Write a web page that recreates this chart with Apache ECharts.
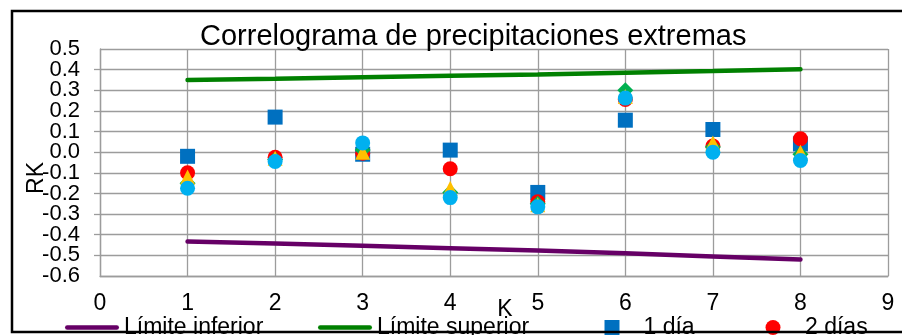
<!DOCTYPE html>
<html>
<head>
<meta charset="utf-8">
<title>Correlograma de precipitaciones extremas</title>
<script src="https://cdn.jsdelivr.net/npm/echarts@6/dist/echarts.min.js"></script>
<style>
  html, body { margin: 0; padding: 0; background: #fff; }
  #chart { width: 902px; height: 335px; }
</style>
</head>
<body>
<div id="chart"></div>
<script>
// Lags (K)
const lags = [1, 2, 3, 4, 5, 6, 7, 8];

// Confidence limits
const limiteInferior = [-0.433, -0.443, -0.454, -0.465, -0.477, -0.490, -0.505, -0.520];
const limiteSuperior = [0.350, 0.356, 0.363, 0.370, 0.377, 0.385, 0.393, 0.402];

// Autocorrelation coefficients per accumulation window
const rk1dia  = [-0.02, 0.17, -0.01, 0.01, -0.195, 0.155, 0.11, 0.04];
const rk2dias = [-0.10, -0.025, -0.005, -0.08, -0.24, 0.255, 0.03, 0.065];
const rk3dias = [-0.15, -0.035, 0.01, -0.195, -0.25, 0.30, 0.025, -0.01];
const rk4dias = [-0.12, -0.03, 0.0, -0.175, -0.255, 0.27, 0.045, 0.0];
const rk5dias = [-0.175, -0.045, 0.045, -0.22, -0.265, 0.262, 0.0, -0.04];

// RK axis range
const RK_MIN = -0.6, RK_MAX = 0.5, RK_STEP = 0.1;

const FONT = 'Liberation Sans, Arial, sans-serif';
const GRID = '#9c9c9c';

// Rounded bar used as the legend glyph of the limit lines
const ICON_LINE = 'path://M2.5,0 L57.5,0 A2.5,2.5 0 0 1 57.5,5 L2.5,5 A2.5,2.5 0 0 1 2.5,0 Z';

const pairs = vals => lags.map((k, i) => [k, vals[i]]);
const fmt = v => (Math.round(v * 10) / 10).toFixed(1);
const isEnd = v => Math.abs(v - RK_MIN) < 1e-6 || Math.abs(v - RK_MAX) < 1e-6;

const chart = echarts.init(document.getElementById('chart'), null, { renderer: 'canvas' });

const legendBase = {
  top: 316,
  itemWidth: 54,
  itemHeight: 15,
  itemGap: 0,
  padding: 0,
  textStyle: { fontFamily: FONT, fontSize: 23, color: '#000' },
  selectedMode: false
};

const yLabelStyle = { margin: 20, fontFamily: FONT, fontSize: 22, color: '#000' };

chart.setOption({
  animation: false,
  backgroundColor: '#fff',
  title: {
    text: 'Correlograma de precipitaciones extremas',
    left: 200,
    top: 22,
    padding: 0,
    textStyle: { fontFamily: FONT, fontSize: 29, fontWeight: 'normal', color: '#000' }
  },
  grid: { left: 100, right: 14, top: 49, bottom: 59, containLabel: false },
  xAxis: {
    type: 'value',
    min: 0, max: 9, interval: 1,
    axisLine: { show: true, onZero: false, lineStyle: { color: GRID, width: 1.3 } },
    axisTick: { show: false },
    splitLine: { show: true, lineStyle: { color: GRID, width: 1.3 } },
    axisLabel: { margin: 16, fontFamily: FONT, fontSize: 23, color: '#000',
                 showMinLabel: true, showMaxLabel: true }
  },
  yAxis: [
    {
      // main RK axis: grid, ticks and the inner labels
      type: 'value', position: 'left',
      min: RK_MIN, max: RK_MAX, interval: RK_STEP,
      axisLine: { show: true, onZero: false, lineStyle: { color: GRID, width: 1.3 } },
      axisTick: { show: true, inside: false, length: 6, lineStyle: { color: GRID, width: 1.3 } },
      splitLine: { show: true, lineStyle: { color: GRID, width: 1.3 } },
      axisLabel: Object.assign({}, yLabelStyle, {
        showMinLabel: false, showMaxLabel: false,
        formatter: v => fmt(v)
      })
    },
    {
      // companion axis carrying only the end labels
      type: 'value', position: 'left', offset: 0,
      min: RK_MIN, max: RK_MAX, interval: RK_STEP,
      axisLine: { show: false }, axisTick: { show: false }, splitLine: { show: false },
      axisLabel: Object.assign({}, yLabelStyle, {
        showMinLabel: true, showMaxLabel: true,
        formatter: v => (isEnd(v) ? fmt(v) : '')
      })
    }
  ],
  legend: [
    Object.assign({}, legendBase, { left: 65, data: [{ name: 'Límite inferior', icon: ICON_LINE }] }),
    Object.assign({}, legendBase, { left: 318, data: [{ name: 'Límite superior', icon: ICON_LINE }] }),
    Object.assign({}, legendBase, {
      left: 604.5, itemWidth: 15,
      textStyle: Object.assign({}, legendBase.textStyle, { padding: [0, 0, 0, 19] }),
      data: [{ name: '1 día', icon: 'rect' }]
    }),
    Object.assign({}, legendBase, {
      left: 765.5, itemWidth: 15,
      textStyle: Object.assign({}, legendBase.textStyle, { padding: [0, 0, 0, 19.5] }),
      data: [{ name: '2 días', icon: 'circle' }]
    })
  ],
  series: [
    {
      name: 'Límite inferior', type: 'line', data: pairs(limiteInferior),
      showSymbol: false, symbol: 'none', color: '#660066',
      itemStyle: { color: '#660066' },
      lineStyle: { width: 4.5, color: '#660066', cap: 'round' }, z: 2
    },
    {
      name: 'Límite superior', type: 'line', data: pairs(limiteSuperior),
      showSymbol: false, symbol: 'none', color: '#008000',
      itemStyle: { color: '#008000' },
      lineStyle: { width: 4.5, color: '#008000', cap: 'round' }, z: 2
    },
    {
      name: '1 día', type: 'scatter', data: pairs(rk1dia),
      symbol: 'rect', symbolSize: 15, itemStyle: { color: '#0070C0', opacity: 1 }, z: 3
    },
    {
      name: '2 días', type: 'scatter', data: pairs(rk2dias),
      symbol: 'circle', symbolSize: 15, itemStyle: { color: '#FF0000', opacity: 1 }, z: 4
    },
    {
      name: '3 días', type: 'scatter', data: pairs(rk3dias),
      symbol: 'diamond', symbolSize: 16, itemStyle: { color: '#00B050', opacity: 1 }, z: 5
    },
    {
      name: '4 días', type: 'scatter', data: pairs(rk4dias),
      symbol: 'triangle', symbolSize: 15, itemStyle: { color: '#FFC000', opacity: 1 }, z: 6
    },
    {
      name: '5 días', type: 'scatter', data: pairs(rk5dias),
      symbol: 'circle', symbolSize: 15, itemStyle: { color: '#00B0F0', opacity: 1 }, z: 7
    }
  ],
  graphic: [
    {
      type: 'text', x: 37, y: 178, rotation: Math.PI / 2,
      style: { text: 'RK', x: 0, y: 0, align: 'center', verticalAlign: 'middle',
               font: '23px ' + FONT, fill: '#000' }
    },
    {
      type: 'text', x: 505, y: 310,
      style: { text: 'K', x: 0, y: 0, align: 'center', verticalAlign: 'middle',
               font: '23px ' + FONT, fill: '#000' }
    },
    {
      type: 'rect', z: 100,
      shape: { x: 12, y: 11, width: 900, height: 321 },
      style: { fill: 'none', stroke: '#000', lineWidth: 2.5 }
    }
  ]
});
</script>
</body>
</html>
